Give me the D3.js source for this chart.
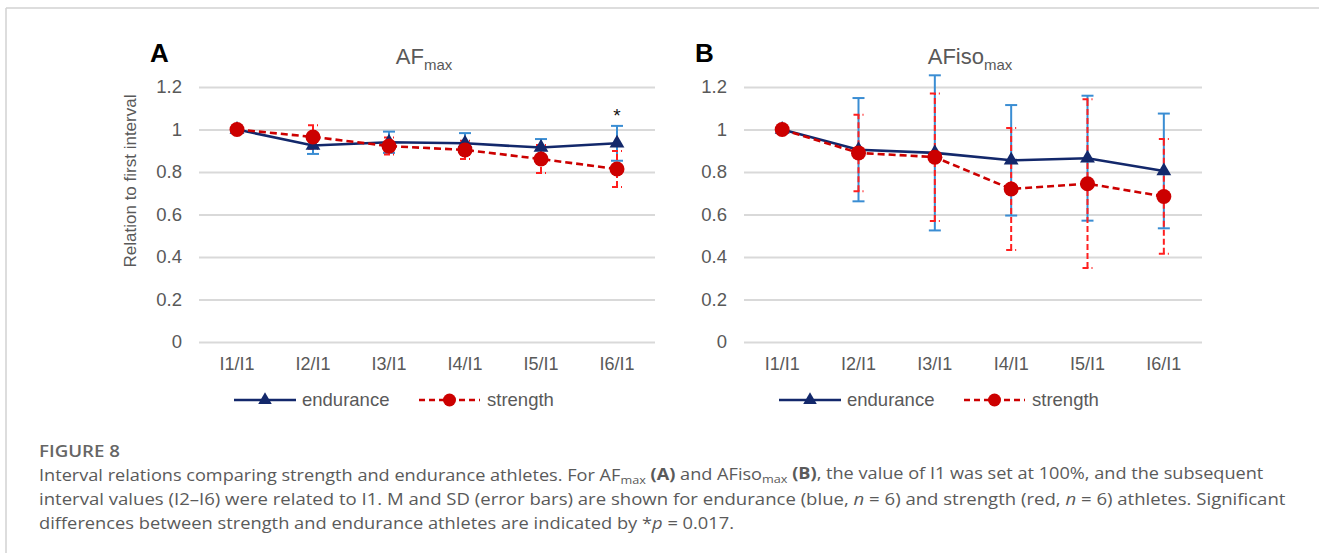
<!DOCTYPE html>
<html>
<head>
<meta charset="utf-8">
<script src="https://cdn.jsdelivr.net/npm/d3@7"></script>
<style>
  body { margin: 0; background: #fff; }
  svg { display: block; }
</style>
</head>
<body>
<svg id="fig" width="1319" height="553"></svg>
<script>
// Interval categories and y-axis ticks shared by both panels
const categories = ["I1/I1", "I2/I1", "I3/I1", "I4/I1", "I5/I1", "I6/I1"];
const yTicks = [0, 0.2, 0.4, 0.6, 0.8, 1, 1.2];

// Panel A: AFmax relative to the first interval (mean, SD)
const afMaxEndurance   = [1, 0.925, 0.94, 0.935, 0.915, 0.935];
const afMaxEnduranceSD = [0, 0.04, 0.05, 0.048, 0.04, 0.082];
const afMaxStrength    = [1, 0.965, 0.922, 0.904, 0.861, 0.814];
const afMaxStrengthSD  = [0, 0.055, 0.04, 0.043, 0.066, 0.085];
const afMaxSignificant = [false, false, false, false, false, true];

// Panel B: AFisomax relative to the first interval (mean, SD)
const afIsoEndurance   = [1, 0.905, 0.89, 0.855, 0.865, 0.805];
const afIsoEnduranceSD = [0, 0.243, 0.365, 0.26, 0.294, 0.27];
const afIsoStrength    = [1, 0.89, 0.87, 0.72, 0.745, 0.685];
const afIsoStrengthSD  = [0, 0.18, 0.30, 0.287, 0.397, 0.27];
const afIsoSignificant = [false, false, false, false, false, false];

const seriesNames = ["endurance", "strength"];

const svg = d3.select("#fig");
const FONT = "'Liberation Sans', Arial, sans-serif";
const TEXT_GREY = "#595959";
const NAVY = "#13286b";
const RED = "#cc0000";
const ERR_BLUE = "#3a8dd3";
const ERR_RED = "#ff1f1f";

// outer frame (top and left rules)
svg.append("line").attr("x1", 6).attr("x2", 1319).attr("y1", 8).attr("y2", 8)
  .attr("stroke", "#d2d2d2").attr("stroke-width", 1.5);
svg.append("line").attr("x1", 6).attr("x2", 6).attr("y1", 8).attr("y2", 553)
  .attr("stroke", "#d2d2d2").attr("stroke-width", 1.5);

const panels = [
  { letter: "A", title: "AF", sub: "max", left: 199, right: 655,
    end: afMaxEndurance, endSD: afMaxEnduranceSD,
    str: afMaxStrength, strSD: afMaxStrengthSD, sig: afMaxSignificant, yTitle: true },
  { letter: "B", title: "AFiso", sub: "max", left: 744, right: 1202,
    end: afIsoEndurance, endSD: afIsoEnduranceSD,
    str: afIsoStrength, strSD: afIsoStrengthSD, sig: afIsoSignificant, yTitle: false }
];

const y = d3.scaleLinear().domain([0, 1.2]).range([342, 87]);

panels.forEach(p => {
  const g = svg.append("g");
  const x = d3.scaleBand().domain(categories).range([p.left, p.right]).padding(0);
  const cx = c => x(c) + x.bandwidth() / 2;
  const width = p.right - p.left;

  // gridlines + y tick labels
  const yAxis = g.append("g").attr("transform", `translate(${p.left},0)`)
    .call(d3.axisLeft(y).tickValues(yTicks).tickFormat(d3.format("~g"))
      .tickSizeInner(-width).tickSizeOuter(0).tickPadding(17));
  yAxis.select(".domain").remove();
  yAxis.selectAll(".tick line").attr("stroke", "#d9d9d9").attr("stroke-width", 1.8);
  yAxis.selectAll(".tick text").attr("fill", TEXT_GREY)
    .style("font-family", FONT).style("font-size", "18.5px");

  // category labels
  const xAxis = g.append("g").attr("transform", `translate(0,${y(0)})`)
    .call(d3.axisBottom(x).tickSize(0).tickPadding(15));
  xAxis.select(".domain").remove();
  xAxis.selectAll(".tick text").attr("fill", TEXT_GREY)
    .style("font-family", FONT).style("font-size", "18px");

  // panel letter
  g.append("text").attr("x", p.left - 49).attr("y", 62).text(p.letter)
    .style("font-family", FONT).style("font-size", "26px").style("font-weight", "bold")
    .attr("fill", "#000");

  // panel title with subscript
  const t = g.append("text").attr("x", (p.left + p.right) / 2 - 3).attr("y", 64)
    .attr("text-anchor", "middle").attr("fill", TEXT_GREY)
    .style("font-family", FONT).style("font-size", "22px");
  t.append("tspan").text(p.title);
  t.append("tspan").attr("dy", 6).style("font-size", "15px").text(p.sub);

  if (p.yTitle) {
    g.append("text").attr("transform", `translate(136,181) rotate(-90)`)
      .attr("text-anchor", "middle").attr("fill", TEXT_GREY)
      .style("font-family", FONT).style("font-size", "17px")
      .text("Relation to first interval");
  }

  // error bars
  function errorBars(means, sds, color, dash, capW) {
    const eg = g.append("g").attr("stroke", color).attr("stroke-width", 2)
      .attr("fill", "none").attr("stroke-dasharray", dash);
    categories.forEach((c, i) => {
      if (!sds[i]) return;
      const lo = y(means[i] - sds[i]), hi = y(means[i] + sds[i]);
      eg.append("line").attr("x1", cx(c)).attr("x2", cx(c)).attr("y1", lo).attr("y2", hi);
      [lo, hi].forEach(v => eg.append("line")
        .attr("x1", cx(c) - capW / 2).attr("x2", cx(c) + capW / 2)
        .attr("y1", v).attr("y2", v));
    });
  }
  errorBars(p.end, p.endSD, ERR_BLUE, null, 12);
  errorBars(p.str, p.strSD, ERR_RED, "6,3", 10);

  const line = d3.line().x((d, i) => cx(categories[i])).y(d => y(d));

  // endurance series
  g.append("path").datum(p.end).attr("d", line).attr("fill", "none")
    .attr("stroke", NAVY).attr("stroke-width", 2.6);
  g.selectAll(null).data(p.end).enter().append("path")
    .attr("d", d3.symbol(d3.symbolTriangle, 95))
    .attr("transform", (d, i) => `translate(${cx(categories[i])},${y(d)})`)
    .attr("fill", NAVY);

  // strength series
  g.append("path").datum(p.str).attr("d", line).attr("fill", "none")
    .attr("stroke", RED).attr("stroke-width", 2.6).attr("stroke-dasharray", "7,4");
  g.selectAll(null).data(p.str).enter().append("circle")
    .attr("cx", (d, i) => cx(categories[i])).attr("cy", d => y(d)).attr("r", 7.5)
    .attr("fill", RED);

  // significance markers
  categories.forEach((c, i) => {
    if (!p.sig[i]) return;
    const top = Math.max(p.end[i] + p.endSD[i], p.str[i] + p.strSD[i]);
    g.append("text").attr("x", cx(c)).attr("y", y(top) - 4).attr("text-anchor", "middle")
      .style("font-family", FONT).style("font-size", "19px").attr("fill", "#111").text("*");
  });

  // legend
  const ly = 400;
  const lg = g.append("g");
  const e0 = p.left + 35;
  lg.append("line").attr("x1", e0).attr("x2", e0 + 62).attr("y1", ly).attr("y2", ly)
    .attr("stroke", NAVY).attr("stroke-width", 2.6);
  lg.append("path").attr("d", d3.symbol(d3.symbolTriangle, 80))
    .attr("transform", `translate(${e0 + 31},${ly})`).attr("fill", NAVY);
  lg.append("text").attr("x", e0 + 68).attr("y", ly + 6).text(seriesNames[0])
    .attr("fill", TEXT_GREY).style("font-family", FONT).style("font-size", "18.5px");
  const s0 = p.left + 220;
  lg.append("line").attr("x1", s0).attr("x2", s0 + 61).attr("y1", ly).attr("y2", ly)
    .attr("stroke", RED).attr("stroke-width", 2.6).attr("stroke-dasharray", "6,4");
  lg.append("circle").attr("cx", s0 + 30.5).attr("cy", ly).attr("r", 6.5).attr("fill", RED);
  lg.append("text").attr("x", s0 + 68).attr("y", ly + 6).text(seriesNames[1])
    .attr("fill", TEXT_GREY).style("font-family", FONT).style("font-size", "18.5px");
});

// caption
const CAP_FONT = "'Open Sans', 'Noto Sans', sans-serif";
const fig = svg.append("text").attr("transform", "translate(39,457)").text("FIGURE 8")
  .attr("fill", "#666").style("font-family", CAP_FONT).style("font-size", "17px")
  .style("font-weight", 600);
fig.attr("transform", `translate(39,457) scale(${81 / fig.node().getComputedTextLength()},1)`);

const captionLines = [
  [["Interval relations comparing strength and endurance athletes. For AF"], ["max", "sub"], [" "], ["(A)", "b"],
   [" and AFiso"], ["max", "sub"], [" "], ["(B)", "b"],
   [", the value of I1 was set at 100%, and the subsequent"]],
  [["interval values (I2\u2013I6) were related to I1. M and SD (error bars) are shown for endurance (blue, "],
   ["n", "i"], [" = 6) and strength (red, "], ["n", "i"], [" = 6) athletes. Significant"]],
  [["differences between strength and endurance athletes are indicated by *"], ["p", "i"], [" = 0.017."]]
];
const capBase = [481, 505, 529];
const capWidth = [1225, 1248, 696];
captionLines.forEach((parts, li) => {
  const t = svg.append("text").attr("fill", "#5a5a5a")
    .style("font-family", CAP_FONT).style("font-size", "16.5px");
  let shifted = false;
  parts.forEach(([txt, kind]) => {
    const ts = t.append("tspan").text(txt);
    if (kind === "sub") { ts.attr("dy", "0.25em").style("font-size", "0.7em"); shifted = true; }
    else if (shifted) { ts.attr("dy", "-0.25em"); shifted = false; }
    if (kind === "b") ts.style("font-weight", "bold");
    if (kind === "i") ts.style("font-style", "italic");
  });
  // narrow the line horizontally so it fills its column width
  const sx = capWidth[li] / t.node().getComputedTextLength();
  t.attr("transform", `translate(39,${capBase[li]}) scale(${sx},1)`);
});
</script>
</body>
</html>
